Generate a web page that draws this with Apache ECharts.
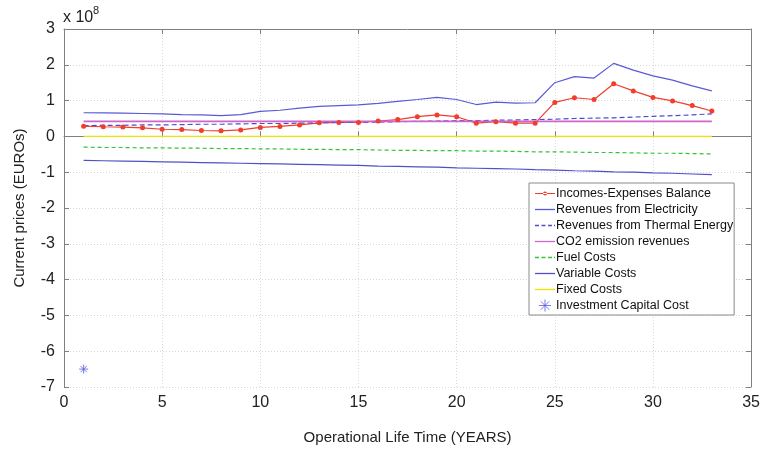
<!DOCTYPE html>
<html>
<head>
<meta charset="utf-8">
<script src="https://cdn.jsdelivr.net/npm/echarts@6/dist/echarts.min.js"></script>
<style>
html,body{margin:0;padding:0;background:#fff;}
#c{width:763px;height:452px;}
</style>
</head>
<body>
<div id="c"></div>
<script>
// values in units of 1e8 EUR
var years = [1,2,3,4,5,6,7,8,9,10,11,12,13,14,15,16,17,18,19,20,21,22,23,24,25,26,27,28,29,30,31,32,33];
var balance = [0.285,0.27,0.26,0.24,0.20,0.19,0.165,0.155,0.18,0.25,0.28,0.32,0.38,0.39,0.39,0.43,0.47,0.55,0.60,0.55,0.37,0.41,0.37,0.37,0.95,1.08,1.03,1.47,1.27,1.09,0.99,0.86,0.71];
var electricity = [0.66,0.655,0.65,0.64,0.63,0.61,0.60,0.58,0.61,0.70,0.73,0.79,0.84,0.86,0.88,0.92,0.98,1.03,1.09,1.03,0.89,0.96,0.93,0.94,1.50,1.67,1.63,2.04,1.85,1.69,1.57,1.41,1.27];
var thermal = [0.30,0.31,0.31,0.32,0.32,0.33,0.34,0.34,0.35,0.36,0.36,0.37,0.38,0.39,0.39,0.40,0.41,0.42,0.43,0.44,0.44,0.45,0.46,0.47,0.48,0.50,0.51,0.52,0.54,0.56,0.58,0.60,0.63];
var co2 = [0.42,0.42,0.42,0.42,0.42,0.42,0.42,0.42,0.42,0.42,0.42,0.42,0.42,0.42,0.42,0.42,0.42,0.42,0.42,0.42,0.42,0.42,0.42,0.42,0.42,0.42,0.42,0.42,0.42,0.42,0.42,0.42,0.42];
var fuel = [-0.30,-0.31,-0.31,-0.32,-0.32,-0.33,-0.33,-0.34,-0.34,-0.35,-0.35,-0.36,-0.36,-0.37,-0.37,-0.38,-0.39,-0.39,-0.40,-0.40,-0.41,-0.41,-0.42,-0.43,-0.43,-0.44,-0.45,-0.45,-0.46,-0.47,-0.47,-0.48,-0.49];
var variable = [-0.67,-0.68,-0.69,-0.70,-0.71,-0.72,-0.73,-0.74,-0.75,-0.76,-0.77,-0.78,-0.79,-0.80,-0.81,-0.83,-0.84,-0.85,-0.86,-0.88,-0.89,-0.90,-0.91,-0.93,-0.94,-0.96,-0.97,-0.99,-1.00,-1.02,-1.03,-1.05,-1.07];
var fixed = [0,0,0,0,0,0,0,0,0,0,0,0,0,0,0,0,0,0,0,0,0,0,0,0,0,0,0,0,0,0,0,0,0];
var investmentYear = [1];
var investment = [-6.5];
var seriesNames = ['Incomes-Expenses Balance','Revenues from Electricity','Revenues from Thermal Energy','CO2 emission revenues','Fuel Costs','Variable Costs','Fixed Costs','Investment Capital Cost'];

function pairs(xs, ys){ return xs.map(function(x,i){ return [x, ys[i]]; }); }

var font = 'Liberation Sans, Arial, sans-serif';
var boxColor = '#808080';
var chart = echarts.init(document.getElementById('c'), null, {renderer:'canvas'});

var ICON_SOLID = 'path://M0,0h20v1.3h-20z';
var ICON_DASH = 'path://M0,0h4v1.3h-4z M6.5,0h4v1.3h-4z M13,0h4v1.3h-4z M19,0h1v1.3h-1z';
var ICON_DOT = 'path://M0,2.4h20v1.2h-20z M10,1 a2,2 0 1,0 0.01,0z';
var ICON_STAR = 'path://M0,5L10,5M5,0L5,10M1.5,1.5L8.5,8.5M8.5,1.5L1.5,8.5';

function lineSeries(name, data, color, type, sym, w){
  return {
    name: name, type: 'line', data: pairs(years, data),
    symbol: sym ? 'circle' : 'none', symbolSize: 5, showSymbol: !!sym,
    lineStyle: {color: color, width: w || 1.2, type: type},
    itemStyle: {color: color},
    animation: false, z: 3
  };
}

var option = {
  animation: false,
  backgroundColor: '#fff',
  grid: {left: 64, right: 10, top: 29, bottom: 65, containLabel: false},
  xAxis: [{
    type: 'value', min: 0, max: 35, interval: 5,
    name: 'Operational Life Time (YEARS)', nameLocation: 'middle', nameGap: 43,
    nameTextStyle: {fontFamily: font, fontSize: 15, color: '#222'},
    axisLine: {show: true, lineStyle: {color: boxColor, width: 1}},
    axisTick: {show: true, inside: true, length: 5, lineStyle: {color: boxColor}},
    axisLabel: {fontFamily: font, fontSize: 16, color: '#222', margin: 8},
    splitLine: {show: true, lineStyle: {color: '#d8d8d8', type: [1,2], width: 1}}
  },{
    type: 'value', min: 0, max: 35, interval: 5, position: 'top',
    axisLine: {show: true, onZero: false, lineStyle: {color: boxColor, width: 1}},
    axisTick: {show: true, inside: true, length: 5, lineStyle: {color: boxColor}},
    axisLabel: {show: false}, splitLine: {show: false}
  }],
  yAxis: [{
    type: 'value', min: -7, max: 3, interval: 1,
    name: 'Current prices (EUROs)', nameLocation: 'middle', nameGap: 37,
    nameTextStyle: {fontFamily: font, fontSize: 15, color: '#222'},
    axisLine: {show: true, onZero: false, lineStyle: {color: boxColor, width: 1}},
    axisTick: {show: true, inside: true, length: 5, lineStyle: {color: boxColor}},
    axisLabel: {fontFamily: font, fontSize: 16, color: '#222', margin: 9},
    splitLine: {show: true, lineStyle: {color: '#d8d8d8', type: [1,2], width: 1}}
  },{
    type: 'value', min: -7, max: 3, interval: 1, position: 'right',
    axisLine: {show: true, onZero: false, lineStyle: {color: boxColor, width: 1}},
    axisTick: {show: true, inside: true, length: 5, lineStyle: {color: boxColor}},
    axisLabel: {show: false}, splitLine: {show: false}
  }],
  legend: {
    orient: 'vertical', left: 529, top: 183,
    padding: [4, 1, 3, 6],
    itemGap: 3, itemWidth: 20, itemHeight: 12,
    backgroundColor: '#fff', borderColor: '#8a8a8a', borderWidth: 1,
    textStyle: {fontFamily: font, fontSize: 12.5, color: '#111', padding: [0,0,0,-4]},
    data: [
      {name: seriesNames[0], icon: ICON_DOT},
      {name: seriesNames[1], icon: ICON_SOLID},
      {name: seriesNames[2], icon: ICON_DASH},
      {name: seriesNames[3], icon: ICON_SOLID},
      {name: seriesNames[4], icon: ICON_DASH},
      {name: seriesNames[5], icon: ICON_SOLID},
      {name: seriesNames[6], icon: ICON_SOLID},
      {name: seriesNames[7], icon: ICON_STAR, itemStyle: {color: 'rgba(0,0,0,0)', borderColor: '#5a5ae0', borderWidth: 1}}
    ]
  },
  graphic: [
    {type: 'text', left: 63, top: 10, style: {text: 'x 10', font: '16px Liberation Sans, Arial, sans-serif', fill: '#222'}},
    {type: 'text', left: 93, top: 5, style: {text: '8', font: '11px Liberation Sans, Arial, sans-serif', fill: '#222'}}
  ],
  series: [
    lineSeries(seriesNames[0], balance, '#f23c2e', 'solid', true),
    lineSeries(seriesNames[1], electricity, '#5a5ad6', 'solid'),
    lineSeries(seriesNames[2], thermal, '#4d4dcc', [5,3]),
    lineSeries(seriesNames[3], co2, '#cc66cc', 'solid', false, 1.8),
    lineSeries(seriesNames[4], fuel, '#33c433', [4,3]),
    lineSeries(seriesNames[5], variable, '#5050c8', 'solid'),
    lineSeries(seriesNames[6], fixed, '#e6e600', 'solid'),
    {
      name: seriesNames[7], type: 'scatter', data: pairs(investmentYear, investment),
      symbol: ICON_STAR,
      symbolSize: 9,
      itemStyle: {color: 'rgba(0,0,0,0)', borderColor: '#5a5ae0', borderWidth: 1},
      z: 3
    }
  ]
};
chart.setOption(option);
</script>
</body>
</html>
